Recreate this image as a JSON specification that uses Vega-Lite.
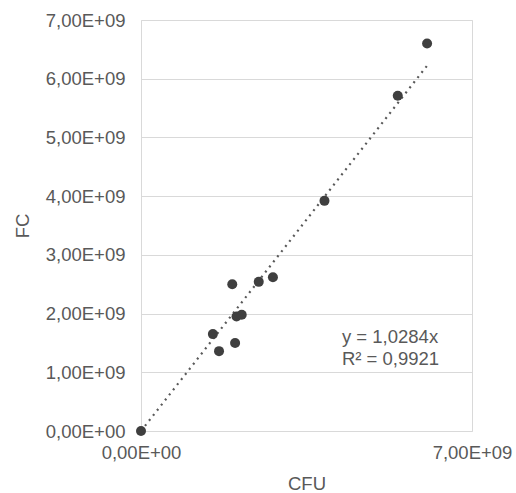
{
  "$schema": "https://vega.github.io/schema/vega-lite/v6.json",
  "width": 331,
  "height": 411,
  "autosize": {"type": "none"},
  "padding": {"left": 141, "top": 20, "right": 44, "bottom": 62},
  "background": "white",
  "config": {
    "font": "Liberation Sans",
    "view": {"stroke": "#d9d9d9", "strokeWidth": 1},
    "axis": {
      "domain": false,
      "ticks": false,
      "labelColor": "#595959",
      "labelFontSize": 18.5,
      "labelFont": "Liberation Sans",
      "titleColor": "#595959",
      "titleFontSize": 18.5,
      "titleFontWeight": "normal",
      "titleFont": "Liberation Sans",
      "gridColor": "#d9d9d9",
      "gridWidth": 1
    }
  },
  "layer": [
    {
      "data": {"values": [
        {"CFU": 0, "FC": 0},
        {"CFU": 6050000000, "FC": 6222000000}
      ]},
      "mark": {"type": "line", "color": "#595959", "strokeWidth": 2.2, "strokeDash": [2, 4.5], "strokeCap": "butt"},
      "encoding": {
        "x": {"field": "CFU", "type": "quantitative"},
        "y": {"field": "FC", "type": "quantitative"}
      }
    },
    {
      "data": {"values": [
        {"CFU": 0, "FC": 0},
        {"CFU": 1520000000, "FC": 1650000000},
        {"CFU": 1650000000, "FC": 1360000000},
        {"CFU": 1990000000, "FC": 1500000000},
        {"CFU": 1930000000, "FC": 2500000000},
        {"CFU": 2020000000, "FC": 1950000000},
        {"CFU": 2130000000, "FC": 1980000000},
        {"CFU": 2490000000, "FC": 2540000000},
        {"CFU": 2790000000, "FC": 2620000000},
        {"CFU": 3880000000, "FC": 3920000000},
        {"CFU": 5430000000, "FC": 5710000000},
        {"CFU": 6050000000, "FC": 6600000000}
      ]},
      "mark": {"type": "circle", "color": "#3f3f3f", "opacity": 1, "size": 100},
      "encoding": {
        "x": {
          "field": "CFU", "type": "quantitative",
          "scale": {"domain": [0, 7000000000], "nice": false, "zero": true},
          "axis": {
            "values": [0, 7000000000],
            "grid": false,
            "labelBaseline": "middle",
            "labelPadding": 21,
            "labelFlush": false,
            "labelExpr": "replace(format(datum.value/1e9,'.2f'),'.',',') + (datum.value==0 ? 'E+00' : 'E+09')",
            "title": "CFU",
            "titleX": 165.5,
            "titleY": 52,
            "titleAlign": "center",
            "titleBaseline": "middle"
          }
        },
        "y": {
          "field": "FC", "type": "quantitative",
          "scale": {"domain": [0, 7000000000], "nice": false, "zero": true},
          "axis": {
            "values": [0, 1000000000, 2000000000, 3000000000, 4000000000, 5000000000, 6000000000, 7000000000],
            "grid": true,
            "labelPadding": 16,
            "labelFlush": false,
            "labelExpr": "replace(format(datum.value/1e9,'.2f'),'.',',') + (datum.value==0 ? 'E+00' : 'E+09')",
            "title": "FC",
            "titleX": -119,
            "titleY": 205.5,
            "titleAlign": "center",
            "titleBaseline": "middle",
            "titleAngle": -90
          }
        }
      }
    },
    {
      "data": {"values": [
        {"CFU": 4250000000, "FC": 1601000000, "label": "y = 1,0284x"},
        {"CFU": 4250000000, "FC": 1226000000, "label": "R² = 0,9921"}
      ]},
      "mark": {"type": "text", "align": "left", "baseline": "middle", "fontSize": 18.5, "color": "#595959", "font": "Liberation Sans"},
      "encoding": {
        "x": {"field": "CFU", "type": "quantitative"},
        "y": {"field": "FC", "type": "quantitative"},
        "text": {"field": "label"}
      }
    }
  ]
}
